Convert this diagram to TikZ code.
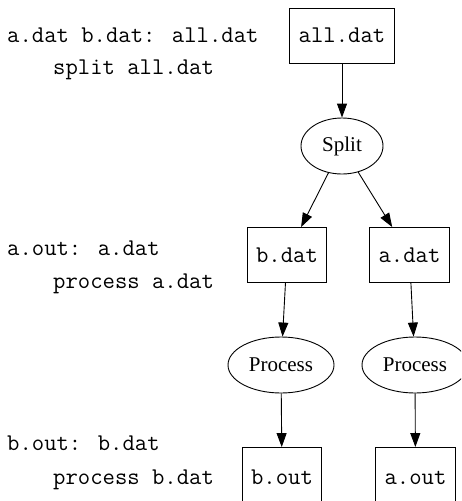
\documentclass[tikz,border=0pt]{standalone}
\usepackage{fontspec}
\setmainfont{Liberation Serif}
\usetikzlibrary{arrows.meta,shapes.geometric}

\begin{document}
\begin{tikzpicture}[x=1pt, y=-1pt, >={Triangle[length=14pt, width=10pt]},
             every node/.style={font=\fontsize{21}{25}\selectfont},
             file/.style={rectangle, draw, line width=0.9pt, minimum height=55pt,
                          inner xsep=9pt, font=\fontsize{24}{28}\selectfont\ttfamily},
             task/.style={ellipse, draw, line width=0.9pt, minimum height=56pt,
                          inner sep=0pt},
             recipe/.style={anchor=base west, inner sep=0pt,
                            font=\fontsize{24}{28}\selectfont\ttfamily},
             dep/.style={->, line width=0.9pt}]
\clip (0,0) rectangle (461,501);
%% make rules, as text on the left
\node[recipe] (r1a) at (7,42)  {a.dat b.dat: all.dat};
\node[recipe] (r1b) at (53,74) {split all.dat};
\node[recipe] (r2a) at (7,255) {a.out: a.dat};
\node[recipe] (r2b) at (53,288) {process a.dat};
\node[recipe] (r3a) at (7,450) {b.out: b.dat};
\node[recipe] (r3b) at (53,484) {process b.dat};
%% the graph
\node[file] (all)  at (342,35.5) {all.dat};
\node[task, minimum width=82pt] (split) at (342,146) {Split};
\node[file] (bdat) at (287,255) {b.dat};
\node[file] (adat) at (409.5,255) {a.dat};
\node[task, minimum width=106pt] (procb) at (281,365) {Process};
\node[task, minimum width=106pt] (proca) at (415,365) {Process};
\node[file, minimum height=60pt] (bout) at (282,477.5) {b.out};
\node[file, minimum height=60pt] (aout) at (415.5,477.5) {a.out};
%% edges
\draw[dep] (all) -- (split);
\draw[dep] (split) -- (bdat);
\draw[dep] (split) -- (adat);
\draw[dep] (bdat) -- (procb);
\draw[dep] (adat) -- (proca);
\draw[dep] (procb) -- (bout);
\draw[dep] (proca) -- (aout);
\end{tikzpicture}
\end{document}
